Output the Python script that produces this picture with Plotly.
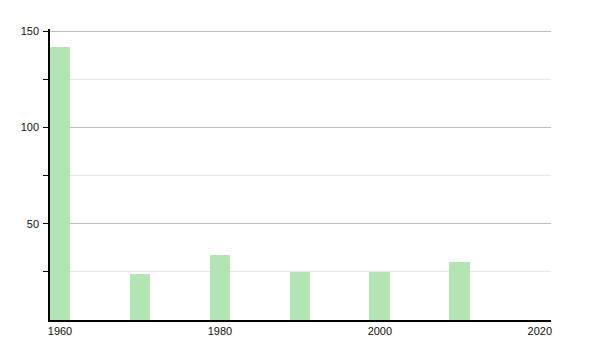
import plotly.graph_objects as go

years = [1960, 1970, 1980, 1990, 2000, 2010]
population = [142, 24, 34, 25, 25, 30]
x_ticks = [1960, 1980, 2000, 2020]
y_ticks = [50, 100, 150]

fig = go.Figure()
fig.add_trace(go.Bar(
    x=years, y=population, width=2.6,
    marker=dict(color="#b3e4b3", line=dict(width=0)),
))
fig.update_layout(
    template="none",
    width=600, height=350,
    margin=dict(l=50, r=49, t=29, b=30),
    paper_bgcolor="white", plot_bgcolor="white",
    font=dict(family="Liberation Sans, Arial, sans-serif", size=11, color="#111"),
    showlegend=False,
    bargap=0,
)
fig.update_xaxes(
    range=[1958.75, 2021.4], tickvals=x_ticks, ticks="", showgrid=False,
    tickfont=dict(color="#111", size=11),
    showline=True, linecolor="black", linewidth=1.5, zeroline=False,
)
fig.update_yaxes(
    range=[0, 151.1], tickvals=y_ticks, ticks="outside", ticklen=5, tickcolor="black",
    tickwidth=1, tickfont=dict(color="#111", size=11), ticklabelstandoff=2,
    showline=True, linecolor="black", linewidth=1.5, zeroline=False,
    showgrid=True, gridcolor="#bdbdbd", gridwidth=1,
    minor=dict(tickvals=[25, 75, 125], ticks="outside", ticklen=5, tickcolor="black",
               tickwidth=1, showgrid=True, gridcolor="#e6e6e6", gridwidth=1),
)
fig.write_html("out.html")
